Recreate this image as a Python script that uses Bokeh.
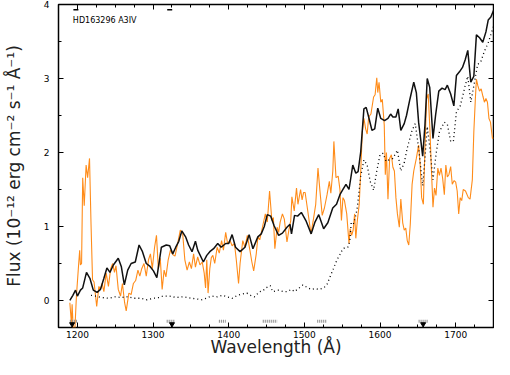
from bokeh.plotting import figure
from bokeh.models import Range1d, LinearAxis, Label, SingleIntervalTicker, CustomJSTickFormatter
from bokeh.embed import file_html
from bokeh.resources import INLINE

# ---------------- data ----------------
model_wl = [1190, 1194, 1197.5, 1200, 1204, 1207, 1212, 1216.5, 1221, 1226, 1230.5, 1235, 1239, 1243,
            1247.5, 1254, 1258, 1262, 1266.5, 1271, 1276.5, 1281.5, 1286, 1291, 1296, 1300.5, 1305, 1311,
            1317.5, 1322, 1326, 1330, 1334, 1338, 1343, 1347, 1351.5, 1356, 1359, 1366.5, 1371, 1375,
            1380, 1385.5, 1390, 1396, 1400, 1404.5, 1409, 1415, 1421.5, 1427, 1432, 1438.5, 1443, 1447,
            1451, 1455.5, 1460, 1466, 1471, 1477, 1481, 1483, 1487, 1491, 1496, 1502, 1509, 1514, 1519,
            1525.5, 1531, 1537.5, 1542.5, 1547, 1551, 1555, 1559, 1564, 1568, 1571, 1574.5, 1578.7,
            1581.7, 1585, 1589.3, 1593, 1597, 1601, 1606, 1610.5, 1614, 1617, 1621, 1624, 1627.5, 1632,
            1635, 1639.5, 1644.6, 1648, 1651, 1656.4, 1659.4, 1662.4, 1665.7, 1670, 1673.4, 1677.7, 1682,
            1686, 1689, 1693.4, 1697.6, 1701, 1705, 1709, 1712.5, 1716, 1720, 1724, 1727.4, 1731.6,
            1735.8, 1740, 1743, 1746.5, 1750]
model_flux = [0.00, 0.07, 0.14, 0.06, 0.14, 0.17, 0.38, 0.30, 0.14, 0.11, 0.15, 0.30, 0.44, 0.38,
              0.48, 0.57, 0.46, 0.21, 0.41, 0.50, 0.52, 0.75, 0.66, 0.50, 0.46, 0.40, 0.31, 0.72,
              0.75, 0.74, 0.63, 0.72, 0.80, 0.94, 0.86, 0.75, 0.66, 0.80, 0.68, 0.52, 0.61, 0.66,
              0.70, 0.77, 0.72, 0.77, 0.77, 0.89, 0.72, 0.66, 0.72, 0.89, 0.70, 0.86, 0.90, 1.00,
              1.16, 1.14, 1.01, 0.88, 0.91, 0.99, 1.03, 0.90, 1.15, 1.14, 1.19, 1.08, 0.90, 1.06, 1.16,
              0.97, 1.05, 1.25, 1.30, 1.43, 1.50, 1.57, 1.50, 1.83, 1.72, 1.74, 2.01, 2.59,
              2.61, 2.48, 2.30, 2.32, 2.60, 2.46, 2.43, 2.46, 2.52, 2.48, 2.48, 2.59, 2.30, 2.39,
              2.50, 2.72, 2.95, 2.81, 2.41, 1.95, 2.37, 3.00, 2.88, 2.19, 2.50, 2.83, 2.87,
              2.85, 2.91, 2.79, 2.63, 3.04, 3.09, 3.15, 3.25, 3.38, 2.95, 3.03, 3.59, 3.55,
              3.49, 3.63, 3.79, 3.83, 3.92]

obs_wl = [1190, 1192, 1193, 1194.5, 1196.6, 1198.7, 1201.7, 1203, 1204, 1205.5, 1207, 1209, 1211.5,
          1213.5, 1216, 1218, 1220, 1222, 1224, 1225.5, 1228.4, 1230.5, 1232.6, 1235, 1238, 1241,
          1244, 1246.6, 1249, 1251, 1254, 1257, 1259.5, 1262.4, 1264.5, 1268, 1271, 1274, 1277,
          1280, 1282.5, 1285, 1288, 1291, 1294, 1296.5, 1299, 1302, 1304.5, 1307, 1309.5, 1312,
          1314.6, 1317, 1320, 1323, 1326, 1329, 1332.5, 1336, 1339, 1342, 1345, 1348, 1350.7,
          1353.6, 1356, 1359, 1362, 1365, 1367.6, 1369.4, 1371, 1372.7, 1375, 1377, 1379, 1381.5,
          1384.7, 1387.5, 1390.6, 1393, 1396, 1398.5, 1401.7, 1404.5, 1407.6, 1410, 1413, 1415,
          1418.6, 1421.5, 1424.6, 1428, 1430.6, 1433, 1436.4, 1438.6, 1441, 1445, 1448.4, 1451,
          1454, 1457, 1459, 1461, 1464, 1466, 1468, 1471, 1473.5, 1477, 1479.5, 1482, 1483.5,
          1486.6, 1489.6, 1491.5, 1495, 1497, 1499, 1501, 1504.5, 1508.7, 1512, 1515, 1518, 1520.6,
          1523.6, 1526.5, 1530, 1533, 1535, 1537.6, 1539, 1541.8, 1544.7, 1547, 1549, 1551, 1553,
          1556, 1559, 1560.5, 1562.5, 1564.5, 1566.4, 1568, 1570, 1572.5, 1574.5, 1576.6, 1578.7,
          1581, 1583, 1585, 1588, 1591.5, 1593.5, 1595.7, 1597, 1598.7, 1601, 1603, 1605.6, 1607,
          1608.5, 1610.5, 1612.7, 1615, 1617, 1619, 1621, 1623, 1625.5, 1627.5, 1630, 1632, 1634,
          1636, 1638, 1640, 1642.4, 1644.6, 1648, 1651, 1653, 1655, 1657.3, 1659.4, 1661.5, 1663.7,
          1666, 1668, 1670, 1672, 1674, 1676.4, 1678.5, 1680.6, 1682.8, 1685, 1687, 1689, 1691,
          1693.4, 1695.5, 1698, 1700, 1702, 1704, 1706, 1708, 1710, 1713, 1716.7, 1719, 1722, 1724,
          1726, 1727.4, 1729.4, 1731.5, 1733.7, 1736, 1738, 1740, 1742, 1744, 1746, 1748.6, 1750]
obs_flux = [-0.03, -0.30, -0.05, -0.40, -0.40, 0.06, 0.50, 0.68, 0.48, 0.50, 1.66, 1.28, 1.83,
            1.66, 1.92, 1.03, 0.28, 0.25, 0.06, -0.08, 0.19, 0.15, 0.23, 0.12, 0.37, 0.19,
            0.43, 0.50, 0.38, 0.47, 0.15, 0.06, 0.23, -0.03, -0.14, 0.10, 0.08, 0.23, 0.27,
            0.41, 0.33, 0.43, 0.50, 0.33, 0.55, 0.63, 0.43, 0.72, 0.88, 0.43, 0.57, 0.15,
            0.41, 0.32, 0.55, 0.68, 0.62, 0.60, 0.77, 0.95, 0.92, 0.55, 0.41, 0.52, 0.43,
            0.63, 0.45, 0.59, 0.48, 0.52, 0.37, 0.17, 0.55, 0.10, 0.43, 0.58, 0.61, 0.50,
            0.72, 0.64, 0.81, 0.68, 0.92, 0.77, 0.81, 0.74, 0.77, 0.55, 0.23, 0.50,
            0.81, 0.72, 0.88, 0.68, 0.52, 0.40, 0.63, 0.86, 0.82, 1.01, 1.17, 1.06,
            1.48, 1.08, 1.12, 0.70, 0.99, 0.92, 1.06, 1.17, 1.10, 0.79, 0.95, 1.08, 1.40,
            1.21, 1.52, 1.30, 1.50, 1.36, 1.46, 1.46, 1.21, 0.90, 1.10, 1.30, 1.79, 1.48,
            1.15, 1.25, 1.43, 1.61, 1.45, 1.75, 2.15, 1.66, 1.68, 1.50, 1.08, 1.39, 1.35,
            1.17, 0.77, 0.97, 0.88, 0.95, 1.17, 0.84, 1.08, 1.30, 1.75, 2.28, 2.46,
            2.32, 2.25, 2.48, 2.52, 2.75, 2.78, 3.01, 2.81, 2.95, 2.68, 2.72, 2.37, 1.70,
            2.00, 1.37, 1.92, 1.97, 1.80, 1.75, 1.39, 1.17, 0.99, 1.37, 1.05, 0.95, 0.98,
            0.81, 0.75, 1.03, 1.57, 1.75, 1.92, 2.10, 1.85, 1.39, 1.30, 2.06, 2.72, 2.79,
            2.30, 1.75, 1.26, 1.52, 1.42, 1.79, 1.69, 1.79, 1.65, 1.43, 1.83, 1.67, 1.70,
            1.81, 1.57, 1.62, 1.60, 1.48, 1.17, 1.39, 1.35, 1.50, 1.48, 1.39, 1.37, 1.63, 2.28,
            2.72, 2.99, 2.90, 2.83, 2.86, 2.76, 2.68, 2.73, 2.68, 2.46, 2.41, 2.19, 2.20]

dot_wl = [1218, 1224, 1232, 1241, 1250, 1258, 1266, 1275, 1283, 1292, 1300, 1308, 1313, 1322, 1330,
          1340, 1351, 1358, 1364, 1370, 1377, 1385, 1392, 1398, 1404.6, 1410, 1415, 1424, 1429, 1434,
          1441, 1445, 1449, 1455, 1458, 1466, 1472.6, 1477, 1483, 1487, 1492, 1498, 1503, 1509, 1514,
          1519, 1525.6, 1530, 1534, 1538, 1542.7, 1547, 1551, 1555, 1557.5, 1560, 1562, 1565, 1568,
          1570, 1574.5, 1578.7, 1583, 1587, 1591.5, 1595.7, 1600, 1604, 1608, 1612, 1617, 1623,
          1627.5, 1632, 1636, 1642.4, 1646.6, 1651, 1656.4, 1659.4, 1662.4, 1665.7, 1670, 1674,
          1678.5, 1685, 1689, 1693.4, 1697, 1701, 1706, 1709, 1712.5, 1716, 1720, 1724, 1729, 1733,
          1738, 1743, 1747, 1750]
dot_flux = [0.07, 0.06, 0.04, 0.03, 0.05, 0.04, 0.05, 0.03, 0.03, 0.01, 0.03, 0.04, 0.06, 0.06, 0.04,
            0.05, 0.03, 0.02, 0.01, 0.03, 0.06, 0.05, 0.07, 0.05, 0.03, 0.06, 0.08, 0.10, 0.07, 0.05,
            0.12, 0.13, 0.17, 0.20, 0.12, 0.14, 0.12, 0.12, 0.15, 0.12, 0.16, 0.21, 0.18, 0.15, 0.16,
            0.15, 0.17, 0.22, 0.32, 0.42, 0.54, 0.62, 0.70, 0.72, 0.72, 0.80, 1.06, 1.04, 1.15,
            1.26, 1.68, 1.90, 1.83, 1.61, 1.49, 1.75, 1.97, 1.99, 1.88, 1.90, 1.92, 2.03,
            1.75, 1.86, 2.06, 2.30, 2.39, 2.06, 1.55, 1.92, 2.35, 2.08, 1.63, 1.97,
            2.28, 2.41, 2.38, 2.15, 2.15, 2.55, 2.63, 2.75, 2.90, 3.03, 2.68, 2.90, 3.19, 3.22,
            3.37, 3.48, 3.61, 3.70]

flag_start = [1190, 1318, 1387, 1445, 1517, 1651]
flag_end = [1200, 1329, 1396, 1464, 1530, 1664]
flag_level = -0.28
arrow_wl = [1193, 1325, 1657]
arrow_level = -0.32
top_flag_wl = [1198, 1322]
top_flag_level = 3.93

star_label = "HD163296 A3IV"
x_title = "Wavelength (Å)"
y_title = "Flux (10⁻¹² erg cm⁻² s⁻¹ Å⁻¹)"

# ---------------- figure ----------------
p = figure(width=494, height=359, output_backend="svg", toolbar_location=None,
           x_range=Range1d(1175, 1750), y_range=Range1d(-0.365, 4.0),
           min_border_left=57, min_border_right=1, min_border_top=4, min_border_bottom=26)
p.background_fill_color = "white"
p.border_fill_color = "white"
p.grid.visible = False
p.outline_line_color = "black"
p.outline_line_width = 1.5

def style_axis(ax, show_labels):
    ax.major_tick_in = 5
    ax.major_tick_out = 0
    ax.minor_tick_in = 3
    ax.minor_tick_out = 0
    ax.axis_line_color = None
    ax.major_tick_line_color = "black"
    ax.minor_tick_line_color = "black"
    ax.major_tick_line_width = 1
    ax.minor_tick_line_width = 1
    if show_labels:
        ax.major_label_text_font = "DejaVu Sans"
        ax.major_label_text_font_size = "9px"
        ax.major_label_text_color = "black"
    else:
        ax.formatter = CustomJSTickFormatter(code="return ''")
        ax.major_label_standoff = 0
        ax.major_label_text_font_size = "0px"

xt = SingleIntervalTicker(interval=100, num_minor_ticks=4)
yt = SingleIntervalTicker(interval=1, num_minor_ticks=2)

p.xaxis.ticker = xt
p.yaxis.ticker = yt
style_axis(p.xaxis[0], True)
style_axis(p.yaxis[0], True)
p.xaxis.major_label_standoff = 3
p.yaxis.major_label_standoff = 9
p.yaxis.major_label_orientation = "horizontal"

p.xaxis.axis_label = x_title
p.yaxis.axis_label = y_title
for ax in (p.xaxis[0], p.yaxis[0]):
    ax.axis_label_text_font = "DejaVu Sans"
    ax.axis_label_text_font_size = "17px"
    ax.axis_label_text_font_style = "normal"
    ax.axis_label_text_color = "#222222"
p.xaxis.axis_label_standoff = -4
p.yaxis.axis_label_standoff = 17

top_ax = LinearAxis(ticker=SingleIntervalTicker(interval=100, num_minor_ticks=4))
right_ax = LinearAxis(ticker=SingleIntervalTicker(interval=1, num_minor_ticks=2))
style_axis(top_ax, False)
style_axis(right_ax, False)
p.add_layout(top_ax, "above")
p.add_layout(right_ax, "right")

# ---------------- data marks ----------------
p.line(obs_wl, obs_flux, line_color="#ff8c1a", line_width=1.1)
p.line(dot_wl, dot_flux, line_color="black", line_width=1.3, line_dash="1 3")
p.line(model_wl, model_flux, line_color="#111111", line_width=1.5)

p.segment(x0=flag_start, y0=[flag_level] * len(flag_start), x1=flag_end, y1=[flag_level] * len(flag_end),
          line_color="#8a8a8a", line_width=3, line_dash="1 1")
p.scatter(arrow_wl, [arrow_level] * len(arrow_wl), marker="inverted_triangle", size=5,
          fill_color="black", line_color="black")
p.scatter(top_flag_wl, [top_flag_level] * len(top_flag_wl), marker="dash", size=5,
          line_color="black", line_width=1.5)

p.add_layout(Label(x=1194, y=3.78, text=star_label, text_font="DejaVu Sans", text_font_size="8px",
                   text_color="black", text_baseline="middle"))

open("out.html", "w").write(file_html(p, INLINE))
